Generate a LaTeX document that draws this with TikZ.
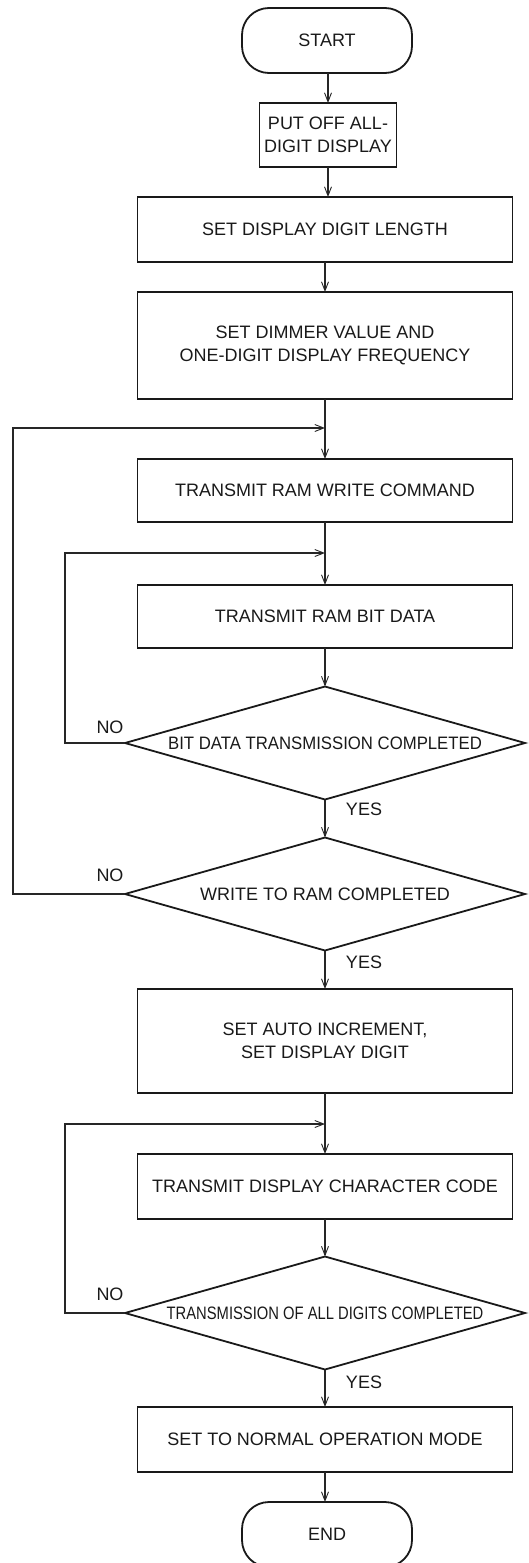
\documentclass[tikz,border=0pt]{standalone}
\usepackage{fontspec}
\usepackage{graphicx}
\setmainfont{Liberation Sans}
\usetikzlibrary{arrows.meta,shapes.geometric}
\tikzset{
  boxline/.style={draw=black!90, line width=1.8pt},
  procbox/.style={boxline, rectangle, minimum width=375pt, inner sep=0pt, outer sep=0pt, align=center},
  termbox/.style={boxline, rectangle, rounded corners=27pt, inner sep=0pt, outer sep=0pt, minimum width=170pt, minimum height=65pt},
  decision/.style={boxline, diamond, minimum width=400pt, minimum height=113pt, inner sep=0pt, outer sep=0pt},
  conn/.style={draw=black!85, line width=1.1pt, -{Straight Barb[length=9pt,width=7pt,line width=0.9pt]}},
  plain/.style={draw=black!85, line width=1.1pt},
  lbl/.style={inner sep=0pt},
  every node/.style={font=\fontsize{18}{23}\selectfont, text=black!90}
}
\begin{document}
\begin{tikzpicture}[x=1pt,y=-1pt]
\useasboundingbox (0,0) rectangle (528,1563);
% nodes
\node[termbox] (start) at (327,40.5) {START};
\node[procbox, minimum width=137pt, minimum height=64pt] (putoff) at (328,135) {PUT OFF ALL-\\DIGIT DISPLAY};
\node[procbox, minimum height=65pt] (len) at (325,229.5) {SET DISPLAY DIGIT LENGTH};
\node[procbox, minimum height=107pt] (dim) at (325,345.5) {SET DIMMER VALUE AND\\ONE-DIGIT DISPLAY FREQUENCY};
\node[procbox, minimum height=63pt] (ramw) at (325,490.5) {TRANSMIT RAM WRITE COMMAND};
\node[procbox, minimum height=63pt] (bit) at (325,616.5) {TRANSMIT RAM BIT DATA};
\node[decision, label={center:\scalebox{0.93}[1]{BIT DATA TRANSMISSION COMPLETED}}] (d1) at (325,743) {};
\node[decision, label={center:WRITE TO RAM COMPLETED}] (d2) at (325,894) {};
\node[procbox, minimum height=104pt] (auto) at (325,1041) {SET AUTO INCREMENT,\\SET DISPLAY DIGIT};
\node[procbox, minimum height=65pt] (chr) at (325,1186.5) {TRANSMIT DISPLAY CHARACTER CODE};
\node[decision, label={center:\scalebox{0.82}[1]{TRANSMISSION OF ALL DIGITS COMPLETED}}] (d3) at (325,1313) {};
\node[procbox, minimum height=65pt] (norm) at (325,1439.5) {SET TO NORMAL OPERATION MODE};
\node[termbox] (end) at (327,1534.5) {END};
% labels
\node[lbl] (no1) at (110,727) {NO};
\node[lbl] (yes1) at (364,809) {YES};
\node[lbl] (no2) at (110,875) {NO};
\node[lbl] (yes2) at (364,962) {YES};
\node[lbl] (no3) at (110,1294) {NO};
\node[lbl] (yes3) at (364,1382) {YES};
% junctions
\coordinate (j1) at (325,428);
\coordinate (j2) at (325,553);
\coordinate (j3) at (325,1124);
% main flow
\draw[conn] (start.south -| putoff) -- (putoff.north);
\draw[conn] (putoff.south) -- (putoff.south |- len.north);
\draw[conn] (len.south) -- (dim.north);
\draw[conn] (dim.south) -- (ramw.north);
\draw[conn] (ramw.south) -- (bit.north);
\draw[conn] (bit.south) -- (d1.north);
\draw[conn] (d1.south) -- (d2.north);
\draw[conn] (d2.south) -- (auto.north);
\draw[conn] (auto.south) -- (chr.north);
\draw[conn] (chr.south) -- (d3.north);
\draw[conn] (d3.south) -- (norm.north);
\draw[conn] (norm.south) -- (end.north -| norm);
% loops
\draw[conn] (d1.west) -- ++(-60,0) |- (j2);
\draw[conn] (d2.west) -- ++(-112,0) |- (j1);
\draw[conn] (d3.west) -- ++(-60,0) |- (j3);
\end{tikzpicture}
\end{document}
